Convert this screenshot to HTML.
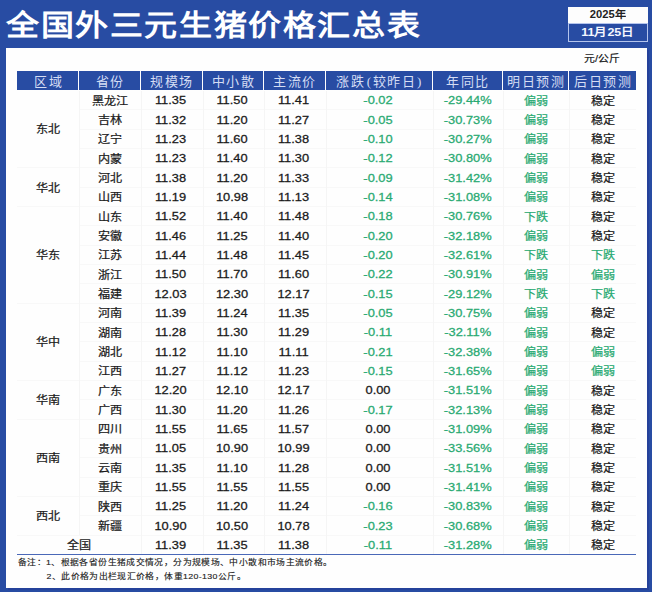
<!DOCTYPE html>
<html lang="zh-CN">
<head>
<meta charset="utf-8">
<title>全国外三元生猪价格汇总表</title>
<style>
html,body{margin:0;padding:0;}
body{width:652px;height:592px;overflow:hidden;background:#284ca3;position:relative;font-family:"Liberation Sans",sans-serif;color:#1a1a1a;}
.abs{position:absolute;}
.title{left:6px;top:6px;height:40px;line-height:40px;font-size:33px;font-weight:bold;color:#fff;white-space:nowrap;letter-spacing:1.6px;transform:scaleY(.88);transform-origin:0 50%;}
.panel{left:6px;top:48px;width:641px;height:539.5px;background:#fefefe;box-shadow:2px 2px 0 #24419a;}
.d1{left:568px;top:6.5px;width:79.5px;height:16.5px;background:#fdfdfd;color:#222;text-align:center;font-size:11.2px;line-height:15.4px;font-weight:bold;}
.d1 span,.d2 span,.unit span{display:block;transform:scaleY(.9);}
.d2{left:568px;top:23px;width:77.5px;height:17px;border:1px solid #b4c4ec;color:#f4f7ff;text-align:center;font-size:12.5px;line-height:17px;font-weight:bold;background:#284ca3;}
.unit{left:568px;top:50px;width:68px;height:16px;line-height:16px;text-align:center;font-size:10.9px;color:#222;-webkit-text-stroke:0.2px currentColor;}
.th{background:#284ca3;color:#d4ddf4;font-family:"Liberation Serif",serif;font-size:13px;text-align:center;white-space:nowrap;letter-spacing:1.5px;text-indent:1.2px;}
.c{text-align:center;white-space:nowrap;font-size:12.1px;transform:scaleY(.9);-webkit-text-stroke:0.25px currentColor;}
.n{text-align:center;white-space:nowrap;font-size:12.85px;transform:scaleY(.9);-webkit-text-stroke:0.3px currentColor;}
.g{color:#29aa72;}
.vl{width:1px;background:#f5f5f5;}
.hl{height:1px;background:#f8f8f8;}
.note{font-size:8.8px;letter-spacing:0.37px;color:#222;white-space:nowrap;line-height:12px;transform:scaleY(.9);transform-origin:0 50%;-webkit-text-stroke:0.15px currentColor;}
</style>
</head>
<body>
<div class="abs title">全国外三元生猪价格汇总表</div>
<div class="abs d1"><span>2025年</span></div>
<div class="abs d2"><span>11月25日</span></div>
<div class="abs panel"></div>
<div class="abs unit"><span>元/公斤</span></div>

<div class="abs th" style="left:17px;top:71.3px;width:61px;height:18.9px;line-height:22.1px;text-indent:2.2px;">区域</div>
<div class="abs th" style="left:79px;top:71.3px;width:61px;height:18.9px;line-height:22.1px;">省份</div>
<div class="abs th" style="left:141px;top:71.3px;width:61px;height:18.9px;line-height:22.1px;">规模场</div>
<div class="abs th" style="left:203px;top:71.3px;width:60px;height:18.9px;line-height:22.1px;">中小散</div>
<div class="abs th" style="left:264px;top:71.3px;width:61px;height:18.9px;line-height:22.1px;">主流价</div>
<div class="abs th" style="left:326px;top:71.3px;width:106px;height:18.9px;line-height:22.1px;">涨跌<span style="margin-left:1.5px">(</span>较昨日<span style="margin-left:1px">)</span></div>
<div class="abs th" style="left:433px;top:71.3px;width:69px;height:18.9px;line-height:22.1px;">年同比</div>
<div class="abs th" style="left:503px;top:71.3px;width:65px;height:18.9px;line-height:22.1px;">明日预测</div>
<div class="abs th" style="left:569px;top:71.3px;width:67px;height:18.9px;line-height:22.1px;">后日预测</div>
<div class="abs hl" style="left:79px;top:109.43px;width:557px;"></div>
<div class="abs hl" style="left:79px;top:128.77px;width:557px;"></div>
<div class="abs hl" style="left:79px;top:148.10px;width:557px;"></div>
<div class="abs hl" style="left:17px;top:167.43px;width:619px;"></div>
<div class="abs hl" style="left:79px;top:186.77px;width:557px;"></div>
<div class="abs hl" style="left:17px;top:206.10px;width:619px;"></div>
<div class="abs hl" style="left:79px;top:225.43px;width:557px;"></div>
<div class="abs hl" style="left:79px;top:244.77px;width:557px;"></div>
<div class="abs hl" style="left:79px;top:264.10px;width:557px;"></div>
<div class="abs hl" style="left:79px;top:283.43px;width:557px;"></div>
<div class="abs hl" style="left:17px;top:302.77px;width:619px;"></div>
<div class="abs hl" style="left:79px;top:322.10px;width:557px;"></div>
<div class="abs hl" style="left:79px;top:341.43px;width:557px;"></div>
<div class="abs hl" style="left:79px;top:360.77px;width:557px;"></div>
<div class="abs hl" style="left:17px;top:380.10px;width:619px;"></div>
<div class="abs hl" style="left:79px;top:399.43px;width:557px;"></div>
<div class="abs hl" style="left:17px;top:418.77px;width:619px;"></div>
<div class="abs hl" style="left:79px;top:438.10px;width:557px;"></div>
<div class="abs hl" style="left:79px;top:457.43px;width:557px;"></div>
<div class="abs hl" style="left:79px;top:476.77px;width:557px;"></div>
<div class="abs hl" style="left:17px;top:496.10px;width:619px;"></div>
<div class="abs hl" style="left:79px;top:515.43px;width:557px;"></div>
<div class="abs hl" style="left:17px;top:534.77px;width:619px;"></div>
<div class="abs vl" style="left:78.5px;top:90.6px;height:444.67px;"></div>
<div class="abs vl" style="left:140.5px;top:90.6px;height:464.00px;"></div>
<div class="abs vl" style="left:202.5px;top:90.6px;height:464.00px;"></div>
<div class="abs vl" style="left:263.5px;top:90.6px;height:464.00px;"></div>
<div class="abs vl" style="left:325.5px;top:90.6px;height:464.00px;"></div>
<div class="abs vl" style="left:432.5px;top:90.6px;height:464.00px;"></div>
<div class="abs vl" style="left:502.5px;top:90.6px;height:464.00px;"></div>
<div class="abs vl" style="left:568.5px;top:90.6px;height:464.00px;"></div>
<div class="abs" style="left:17px;top:554.00px;width:619px;height:1.3px;background:#4a68b8;"></div>
<div class="abs c" style="left:17px;top:91.40px;width:62px;height:77.33px;line-height:77.33px;">东北</div>
<div class="abs c" style="left:17px;top:168.73px;width:62px;height:38.67px;line-height:38.67px;">华北</div>
<div class="abs c" style="left:17px;top:207.40px;width:62px;height:96.67px;line-height:96.67px;">华东</div>
<div class="abs c" style="left:17px;top:304.07px;width:62px;height:77.33px;line-height:77.33px;">华中</div>
<div class="abs c" style="left:17px;top:381.40px;width:62px;height:38.67px;line-height:38.67px;">华南</div>
<div class="abs c" style="left:17px;top:420.07px;width:62px;height:77.33px;line-height:77.33px;">西南</div>
<div class="abs c" style="left:17px;top:497.40px;width:62px;height:38.67px;line-height:38.67px;">西北</div>
<div class="abs c" style="left:79px;top:91.60px;width:62px;height:19.33px;line-height:19.33px;">黑龙江</div>
<div class="abs n" style="left:139.5px;top:90.30px;width:62px;height:19.33px;line-height:19.33px;">11.35</div>
<div class="abs n" style="left:201.5px;top:90.30px;width:61px;height:19.33px;line-height:19.33px;">11.50</div>
<div class="abs n" style="left:262.5px;top:90.30px;width:62px;height:19.33px;line-height:19.33px;">11.41</div>
<div class="abs n g" style="left:324.5px;top:90.30px;width:107px;height:19.33px;line-height:19.33px;">-0.02</div>
<div class="abs n g" style="left:432.7px;top:90.30px;width:70px;height:19.33px;line-height:19.33px;">-29.44%</div>
<div class="abs c g" style="left:503px;top:91.60px;width:66px;height:19.33px;line-height:19.33px;">偏弱</div>
<div class="abs c" style="left:569px;top:91.60px;width:67px;height:19.33px;line-height:19.33px;">稳定</div>
<div class="abs c" style="left:79px;top:110.93px;width:62px;height:19.33px;line-height:19.33px;">吉林</div>
<div class="abs n" style="left:139.5px;top:109.63px;width:62px;height:19.33px;line-height:19.33px;">11.32</div>
<div class="abs n" style="left:201.5px;top:109.63px;width:61px;height:19.33px;line-height:19.33px;">11.20</div>
<div class="abs n" style="left:262.5px;top:109.63px;width:62px;height:19.33px;line-height:19.33px;">11.27</div>
<div class="abs n g" style="left:324.5px;top:109.63px;width:107px;height:19.33px;line-height:19.33px;">-0.05</div>
<div class="abs n g" style="left:432.7px;top:109.63px;width:70px;height:19.33px;line-height:19.33px;">-30.73%</div>
<div class="abs c g" style="left:503px;top:110.93px;width:66px;height:19.33px;line-height:19.33px;">偏弱</div>
<div class="abs c" style="left:569px;top:110.93px;width:67px;height:19.33px;line-height:19.33px;">稳定</div>
<div class="abs c" style="left:79px;top:130.27px;width:62px;height:19.33px;line-height:19.33px;">辽宁</div>
<div class="abs n" style="left:139.5px;top:128.97px;width:62px;height:19.33px;line-height:19.33px;">11.23</div>
<div class="abs n" style="left:201.5px;top:128.97px;width:61px;height:19.33px;line-height:19.33px;">11.60</div>
<div class="abs n" style="left:262.5px;top:128.97px;width:62px;height:19.33px;line-height:19.33px;">11.38</div>
<div class="abs n g" style="left:324.5px;top:128.97px;width:107px;height:19.33px;line-height:19.33px;">-0.10</div>
<div class="abs n g" style="left:432.7px;top:128.97px;width:70px;height:19.33px;line-height:19.33px;">-30.27%</div>
<div class="abs c g" style="left:503px;top:130.27px;width:66px;height:19.33px;line-height:19.33px;">偏弱</div>
<div class="abs c" style="left:569px;top:130.27px;width:67px;height:19.33px;line-height:19.33px;">稳定</div>
<div class="abs c" style="left:79px;top:149.60px;width:62px;height:19.33px;line-height:19.33px;">内蒙</div>
<div class="abs n" style="left:139.5px;top:148.30px;width:62px;height:19.33px;line-height:19.33px;">11.23</div>
<div class="abs n" style="left:201.5px;top:148.30px;width:61px;height:19.33px;line-height:19.33px;">11.40</div>
<div class="abs n" style="left:262.5px;top:148.30px;width:62px;height:19.33px;line-height:19.33px;">11.30</div>
<div class="abs n g" style="left:324.5px;top:148.30px;width:107px;height:19.33px;line-height:19.33px;">-0.12</div>
<div class="abs n g" style="left:432.7px;top:148.30px;width:70px;height:19.33px;line-height:19.33px;">-30.80%</div>
<div class="abs c g" style="left:503px;top:149.60px;width:66px;height:19.33px;line-height:19.33px;">偏弱</div>
<div class="abs c" style="left:569px;top:149.60px;width:67px;height:19.33px;line-height:19.33px;">稳定</div>
<div class="abs c" style="left:79px;top:168.93px;width:62px;height:19.33px;line-height:19.33px;">河北</div>
<div class="abs n" style="left:139.5px;top:167.63px;width:62px;height:19.33px;line-height:19.33px;">11.38</div>
<div class="abs n" style="left:201.5px;top:167.63px;width:61px;height:19.33px;line-height:19.33px;">11.20</div>
<div class="abs n" style="left:262.5px;top:167.63px;width:62px;height:19.33px;line-height:19.33px;">11.33</div>
<div class="abs n g" style="left:324.5px;top:167.63px;width:107px;height:19.33px;line-height:19.33px;">-0.09</div>
<div class="abs n g" style="left:432.7px;top:167.63px;width:70px;height:19.33px;line-height:19.33px;">-31.42%</div>
<div class="abs c g" style="left:503px;top:168.93px;width:66px;height:19.33px;line-height:19.33px;">偏弱</div>
<div class="abs c" style="left:569px;top:168.93px;width:67px;height:19.33px;line-height:19.33px;">稳定</div>
<div class="abs c" style="left:79px;top:188.27px;width:62px;height:19.33px;line-height:19.33px;">山西</div>
<div class="abs n" style="left:139.5px;top:186.97px;width:62px;height:19.33px;line-height:19.33px;">11.19</div>
<div class="abs n" style="left:201.5px;top:186.97px;width:61px;height:19.33px;line-height:19.33px;">10.98</div>
<div class="abs n" style="left:262.5px;top:186.97px;width:62px;height:19.33px;line-height:19.33px;">11.13</div>
<div class="abs n g" style="left:324.5px;top:186.97px;width:107px;height:19.33px;line-height:19.33px;">-0.14</div>
<div class="abs n g" style="left:432.7px;top:186.97px;width:70px;height:19.33px;line-height:19.33px;">-31.08%</div>
<div class="abs c g" style="left:503px;top:188.27px;width:66px;height:19.33px;line-height:19.33px;">偏弱</div>
<div class="abs c" style="left:569px;top:188.27px;width:67px;height:19.33px;line-height:19.33px;">稳定</div>
<div class="abs c" style="left:79px;top:207.60px;width:62px;height:19.33px;line-height:19.33px;">山东</div>
<div class="abs n" style="left:139.5px;top:206.30px;width:62px;height:19.33px;line-height:19.33px;">11.52</div>
<div class="abs n" style="left:201.5px;top:206.30px;width:61px;height:19.33px;line-height:19.33px;">11.40</div>
<div class="abs n" style="left:262.5px;top:206.30px;width:62px;height:19.33px;line-height:19.33px;">11.48</div>
<div class="abs n g" style="left:324.5px;top:206.30px;width:107px;height:19.33px;line-height:19.33px;">-0.18</div>
<div class="abs n g" style="left:432.7px;top:206.30px;width:70px;height:19.33px;line-height:19.33px;">-30.76%</div>
<div class="abs c g" style="left:503px;top:207.60px;width:66px;height:19.33px;line-height:19.33px;">下跌</div>
<div class="abs c" style="left:569px;top:207.60px;width:67px;height:19.33px;line-height:19.33px;">稳定</div>
<div class="abs c" style="left:79px;top:226.93px;width:62px;height:19.33px;line-height:19.33px;">安徽</div>
<div class="abs n" style="left:139.5px;top:225.63px;width:62px;height:19.33px;line-height:19.33px;">11.46</div>
<div class="abs n" style="left:201.5px;top:225.63px;width:61px;height:19.33px;line-height:19.33px;">11.25</div>
<div class="abs n" style="left:262.5px;top:225.63px;width:62px;height:19.33px;line-height:19.33px;">11.40</div>
<div class="abs n g" style="left:324.5px;top:225.63px;width:107px;height:19.33px;line-height:19.33px;">-0.20</div>
<div class="abs n g" style="left:432.7px;top:225.63px;width:70px;height:19.33px;line-height:19.33px;">-32.18%</div>
<div class="abs c g" style="left:503px;top:226.93px;width:66px;height:19.33px;line-height:19.33px;">偏弱</div>
<div class="abs c" style="left:569px;top:226.93px;width:67px;height:19.33px;line-height:19.33px;">稳定</div>
<div class="abs c" style="left:79px;top:246.27px;width:62px;height:19.33px;line-height:19.33px;">江苏</div>
<div class="abs n" style="left:139.5px;top:244.97px;width:62px;height:19.33px;line-height:19.33px;">11.44</div>
<div class="abs n" style="left:201.5px;top:244.97px;width:61px;height:19.33px;line-height:19.33px;">11.48</div>
<div class="abs n" style="left:262.5px;top:244.97px;width:62px;height:19.33px;line-height:19.33px;">11.45</div>
<div class="abs n g" style="left:324.5px;top:244.97px;width:107px;height:19.33px;line-height:19.33px;">-0.20</div>
<div class="abs n g" style="left:432.7px;top:244.97px;width:70px;height:19.33px;line-height:19.33px;">-32.61%</div>
<div class="abs c g" style="left:503px;top:246.27px;width:66px;height:19.33px;line-height:19.33px;">下跌</div>
<div class="abs c g" style="left:569px;top:246.27px;width:67px;height:19.33px;line-height:19.33px;">下跌</div>
<div class="abs c" style="left:79px;top:265.60px;width:62px;height:19.33px;line-height:19.33px;">浙江</div>
<div class="abs n" style="left:139.5px;top:264.30px;width:62px;height:19.33px;line-height:19.33px;">11.50</div>
<div class="abs n" style="left:201.5px;top:264.30px;width:61px;height:19.33px;line-height:19.33px;">11.70</div>
<div class="abs n" style="left:262.5px;top:264.30px;width:62px;height:19.33px;line-height:19.33px;">11.60</div>
<div class="abs n g" style="left:324.5px;top:264.30px;width:107px;height:19.33px;line-height:19.33px;">-0.22</div>
<div class="abs n g" style="left:432.7px;top:264.30px;width:70px;height:19.33px;line-height:19.33px;">-30.91%</div>
<div class="abs c g" style="left:503px;top:265.60px;width:66px;height:19.33px;line-height:19.33px;">偏弱</div>
<div class="abs c g" style="left:569px;top:265.60px;width:67px;height:19.33px;line-height:19.33px;">偏弱</div>
<div class="abs c" style="left:79px;top:284.93px;width:62px;height:19.33px;line-height:19.33px;">福建</div>
<div class="abs n" style="left:139.5px;top:283.63px;width:62px;height:19.33px;line-height:19.33px;">12.03</div>
<div class="abs n" style="left:201.5px;top:283.63px;width:61px;height:19.33px;line-height:19.33px;">12.30</div>
<div class="abs n" style="left:262.5px;top:283.63px;width:62px;height:19.33px;line-height:19.33px;">12.17</div>
<div class="abs n g" style="left:324.5px;top:283.63px;width:107px;height:19.33px;line-height:19.33px;">-0.15</div>
<div class="abs n g" style="left:432.7px;top:283.63px;width:70px;height:19.33px;line-height:19.33px;">-29.12%</div>
<div class="abs c g" style="left:503px;top:284.93px;width:66px;height:19.33px;line-height:19.33px;">下跌</div>
<div class="abs c g" style="left:569px;top:284.93px;width:67px;height:19.33px;line-height:19.33px;">下跌</div>
<div class="abs c" style="left:79px;top:304.27px;width:62px;height:19.33px;line-height:19.33px;">河南</div>
<div class="abs n" style="left:139.5px;top:302.97px;width:62px;height:19.33px;line-height:19.33px;">11.39</div>
<div class="abs n" style="left:201.5px;top:302.97px;width:61px;height:19.33px;line-height:19.33px;">11.24</div>
<div class="abs n" style="left:262.5px;top:302.97px;width:62px;height:19.33px;line-height:19.33px;">11.35</div>
<div class="abs n g" style="left:324.5px;top:302.97px;width:107px;height:19.33px;line-height:19.33px;">-0.05</div>
<div class="abs n g" style="left:432.7px;top:302.97px;width:70px;height:19.33px;line-height:19.33px;">-30.75%</div>
<div class="abs c g" style="left:503px;top:304.27px;width:66px;height:19.33px;line-height:19.33px;">偏弱</div>
<div class="abs c" style="left:569px;top:304.27px;width:67px;height:19.33px;line-height:19.33px;">稳定</div>
<div class="abs c" style="left:79px;top:323.60px;width:62px;height:19.33px;line-height:19.33px;">湖南</div>
<div class="abs n" style="left:139.5px;top:322.30px;width:62px;height:19.33px;line-height:19.33px;">11.28</div>
<div class="abs n" style="left:201.5px;top:322.30px;width:61px;height:19.33px;line-height:19.33px;">11.30</div>
<div class="abs n" style="left:262.5px;top:322.30px;width:62px;height:19.33px;line-height:19.33px;">11.29</div>
<div class="abs n g" style="left:324.5px;top:322.30px;width:107px;height:19.33px;line-height:19.33px;">-0.11</div>
<div class="abs n g" style="left:432.7px;top:322.30px;width:70px;height:19.33px;line-height:19.33px;">-32.11%</div>
<div class="abs c g" style="left:503px;top:323.60px;width:66px;height:19.33px;line-height:19.33px;">偏弱</div>
<div class="abs c" style="left:569px;top:323.60px;width:67px;height:19.33px;line-height:19.33px;">稳定</div>
<div class="abs c" style="left:79px;top:342.93px;width:62px;height:19.33px;line-height:19.33px;">湖北</div>
<div class="abs n" style="left:139.5px;top:341.63px;width:62px;height:19.33px;line-height:19.33px;">11.12</div>
<div class="abs n" style="left:201.5px;top:341.63px;width:61px;height:19.33px;line-height:19.33px;">11.10</div>
<div class="abs n" style="left:262.5px;top:341.63px;width:62px;height:19.33px;line-height:19.33px;">11.11</div>
<div class="abs n g" style="left:324.5px;top:341.63px;width:107px;height:19.33px;line-height:19.33px;">-0.21</div>
<div class="abs n g" style="left:432.7px;top:341.63px;width:70px;height:19.33px;line-height:19.33px;">-32.38%</div>
<div class="abs c g" style="left:503px;top:342.93px;width:66px;height:19.33px;line-height:19.33px;">偏弱</div>
<div class="abs c g" style="left:569px;top:342.93px;width:67px;height:19.33px;line-height:19.33px;">偏弱</div>
<div class="abs c" style="left:79px;top:362.27px;width:62px;height:19.33px;line-height:19.33px;">江西</div>
<div class="abs n" style="left:139.5px;top:360.97px;width:62px;height:19.33px;line-height:19.33px;">11.27</div>
<div class="abs n" style="left:201.5px;top:360.97px;width:61px;height:19.33px;line-height:19.33px;">11.12</div>
<div class="abs n" style="left:262.5px;top:360.97px;width:62px;height:19.33px;line-height:19.33px;">11.23</div>
<div class="abs n g" style="left:324.5px;top:360.97px;width:107px;height:19.33px;line-height:19.33px;">-0.15</div>
<div class="abs n g" style="left:432.7px;top:360.97px;width:70px;height:19.33px;line-height:19.33px;">-31.65%</div>
<div class="abs c g" style="left:503px;top:362.27px;width:66px;height:19.33px;line-height:19.33px;">偏弱</div>
<div class="abs c g" style="left:569px;top:362.27px;width:67px;height:19.33px;line-height:19.33px;">偏弱</div>
<div class="abs c" style="left:79px;top:381.60px;width:62px;height:19.33px;line-height:19.33px;">广东</div>
<div class="abs n" style="left:139.5px;top:380.30px;width:62px;height:19.33px;line-height:19.33px;">12.20</div>
<div class="abs n" style="left:201.5px;top:380.30px;width:61px;height:19.33px;line-height:19.33px;">12.10</div>
<div class="abs n" style="left:262.5px;top:380.30px;width:62px;height:19.33px;line-height:19.33px;">12.17</div>
<div class="abs n" style="left:324.5px;top:380.30px;width:107px;height:19.33px;line-height:19.33px;">0.00</div>
<div class="abs n g" style="left:432.7px;top:380.30px;width:70px;height:19.33px;line-height:19.33px;">-31.51%</div>
<div class="abs c g" style="left:503px;top:381.60px;width:66px;height:19.33px;line-height:19.33px;">偏弱</div>
<div class="abs c" style="left:569px;top:381.60px;width:67px;height:19.33px;line-height:19.33px;">稳定</div>
<div class="abs c" style="left:79px;top:400.93px;width:62px;height:19.33px;line-height:19.33px;">广西</div>
<div class="abs n" style="left:139.5px;top:399.63px;width:62px;height:19.33px;line-height:19.33px;">11.30</div>
<div class="abs n" style="left:201.5px;top:399.63px;width:61px;height:19.33px;line-height:19.33px;">11.20</div>
<div class="abs n" style="left:262.5px;top:399.63px;width:62px;height:19.33px;line-height:19.33px;">11.26</div>
<div class="abs n g" style="left:324.5px;top:399.63px;width:107px;height:19.33px;line-height:19.33px;">-0.17</div>
<div class="abs n g" style="left:432.7px;top:399.63px;width:70px;height:19.33px;line-height:19.33px;">-32.13%</div>
<div class="abs c g" style="left:503px;top:400.93px;width:66px;height:19.33px;line-height:19.33px;">偏弱</div>
<div class="abs c" style="left:569px;top:400.93px;width:67px;height:19.33px;line-height:19.33px;">稳定</div>
<div class="abs c" style="left:79px;top:420.27px;width:62px;height:19.33px;line-height:19.33px;">四川</div>
<div class="abs n" style="left:139.5px;top:418.97px;width:62px;height:19.33px;line-height:19.33px;">11.55</div>
<div class="abs n" style="left:201.5px;top:418.97px;width:61px;height:19.33px;line-height:19.33px;">11.65</div>
<div class="abs n" style="left:262.5px;top:418.97px;width:62px;height:19.33px;line-height:19.33px;">11.57</div>
<div class="abs n" style="left:324.5px;top:418.97px;width:107px;height:19.33px;line-height:19.33px;">0.00</div>
<div class="abs n g" style="left:432.7px;top:418.97px;width:70px;height:19.33px;line-height:19.33px;">-31.09%</div>
<div class="abs c g" style="left:503px;top:420.27px;width:66px;height:19.33px;line-height:19.33px;">偏弱</div>
<div class="abs c" style="left:569px;top:420.27px;width:67px;height:19.33px;line-height:19.33px;">稳定</div>
<div class="abs c" style="left:79px;top:439.60px;width:62px;height:19.33px;line-height:19.33px;">贵州</div>
<div class="abs n" style="left:139.5px;top:438.30px;width:62px;height:19.33px;line-height:19.33px;">11.05</div>
<div class="abs n" style="left:201.5px;top:438.30px;width:61px;height:19.33px;line-height:19.33px;">10.90</div>
<div class="abs n" style="left:262.5px;top:438.30px;width:62px;height:19.33px;line-height:19.33px;">10.99</div>
<div class="abs n" style="left:324.5px;top:438.30px;width:107px;height:19.33px;line-height:19.33px;">0.00</div>
<div class="abs n g" style="left:432.7px;top:438.30px;width:70px;height:19.33px;line-height:19.33px;">-33.56%</div>
<div class="abs c g" style="left:503px;top:439.60px;width:66px;height:19.33px;line-height:19.33px;">偏弱</div>
<div class="abs c" style="left:569px;top:439.60px;width:67px;height:19.33px;line-height:19.33px;">稳定</div>
<div class="abs c" style="left:79px;top:458.93px;width:62px;height:19.33px;line-height:19.33px;">云南</div>
<div class="abs n" style="left:139.5px;top:457.63px;width:62px;height:19.33px;line-height:19.33px;">11.35</div>
<div class="abs n" style="left:201.5px;top:457.63px;width:61px;height:19.33px;line-height:19.33px;">11.10</div>
<div class="abs n" style="left:262.5px;top:457.63px;width:62px;height:19.33px;line-height:19.33px;">11.28</div>
<div class="abs n" style="left:324.5px;top:457.63px;width:107px;height:19.33px;line-height:19.33px;">0.00</div>
<div class="abs n g" style="left:432.7px;top:457.63px;width:70px;height:19.33px;line-height:19.33px;">-31.51%</div>
<div class="abs c g" style="left:503px;top:458.93px;width:66px;height:19.33px;line-height:19.33px;">偏弱</div>
<div class="abs c" style="left:569px;top:458.93px;width:67px;height:19.33px;line-height:19.33px;">稳定</div>
<div class="abs c" style="left:79px;top:478.27px;width:62px;height:19.33px;line-height:19.33px;">重庆</div>
<div class="abs n" style="left:139.5px;top:476.97px;width:62px;height:19.33px;line-height:19.33px;">11.55</div>
<div class="abs n" style="left:201.5px;top:476.97px;width:61px;height:19.33px;line-height:19.33px;">11.55</div>
<div class="abs n" style="left:262.5px;top:476.97px;width:62px;height:19.33px;line-height:19.33px;">11.55</div>
<div class="abs n" style="left:324.5px;top:476.97px;width:107px;height:19.33px;line-height:19.33px;">0.00</div>
<div class="abs n g" style="left:432.7px;top:476.97px;width:70px;height:19.33px;line-height:19.33px;">-31.41%</div>
<div class="abs c g" style="left:503px;top:478.27px;width:66px;height:19.33px;line-height:19.33px;">偏弱</div>
<div class="abs c" style="left:569px;top:478.27px;width:67px;height:19.33px;line-height:19.33px;">稳定</div>
<div class="abs c" style="left:79px;top:497.60px;width:62px;height:19.33px;line-height:19.33px;">陕西</div>
<div class="abs n" style="left:139.5px;top:496.30px;width:62px;height:19.33px;line-height:19.33px;">11.25</div>
<div class="abs n" style="left:201.5px;top:496.30px;width:61px;height:19.33px;line-height:19.33px;">11.20</div>
<div class="abs n" style="left:262.5px;top:496.30px;width:62px;height:19.33px;line-height:19.33px;">11.24</div>
<div class="abs n g" style="left:324.5px;top:496.30px;width:107px;height:19.33px;line-height:19.33px;">-0.16</div>
<div class="abs n g" style="left:432.7px;top:496.30px;width:70px;height:19.33px;line-height:19.33px;">-30.83%</div>
<div class="abs c g" style="left:503px;top:497.60px;width:66px;height:19.33px;line-height:19.33px;">偏弱</div>
<div class="abs c" style="left:569px;top:497.60px;width:67px;height:19.33px;line-height:19.33px;">稳定</div>
<div class="abs c" style="left:79px;top:516.93px;width:62px;height:19.33px;line-height:19.33px;">新疆</div>
<div class="abs n" style="left:139.5px;top:515.63px;width:62px;height:19.33px;line-height:19.33px;">10.90</div>
<div class="abs n" style="left:201.5px;top:515.63px;width:61px;height:19.33px;line-height:19.33px;">10.50</div>
<div class="abs n" style="left:262.5px;top:515.63px;width:62px;height:19.33px;line-height:19.33px;">10.78</div>
<div class="abs n g" style="left:324.5px;top:515.63px;width:107px;height:19.33px;line-height:19.33px;">-0.23</div>
<div class="abs n g" style="left:432.7px;top:515.63px;width:70px;height:19.33px;line-height:19.33px;">-30.68%</div>
<div class="abs c g" style="left:503px;top:516.93px;width:66px;height:19.33px;line-height:19.33px;">偏弱</div>
<div class="abs c" style="left:569px;top:516.93px;width:67px;height:19.33px;line-height:19.33px;">稳定</div>
<div class="abs c" style="left:17px;top:536.27px;width:124px;height:19.33px;line-height:19.33px;">全国</div>
<div class="abs n" style="left:139.5px;top:534.97px;width:62px;height:19.33px;line-height:19.33px;">11.39</div>
<div class="abs n" style="left:201.5px;top:534.97px;width:61px;height:19.33px;line-height:19.33px;">11.35</div>
<div class="abs n" style="left:262.5px;top:534.97px;width:62px;height:19.33px;line-height:19.33px;">11.38</div>
<div class="abs n g" style="left:324.5px;top:534.97px;width:107px;height:19.33px;line-height:19.33px;">-0.11</div>
<div class="abs n g" style="left:432.7px;top:534.97px;width:70px;height:19.33px;line-height:19.33px;">-31.28%</div>
<div class="abs c g" style="left:503px;top:536.27px;width:66px;height:19.33px;line-height:19.33px;">偏弱</div>
<div class="abs c" style="left:569px;top:536.27px;width:67px;height:19.33px;line-height:19.33px;">稳定</div>
<div class="abs note" style="left:18px;top:556.4px;">备注：1、根据各省份生猪成交情况，分为规模场、中小散和市场主流价格。</div>
<div class="abs note" style="left:46.5px;top:570.4px;">2、此价格为出栏现汇价格，体重120-130公斤。</div>
</body>
</html>
